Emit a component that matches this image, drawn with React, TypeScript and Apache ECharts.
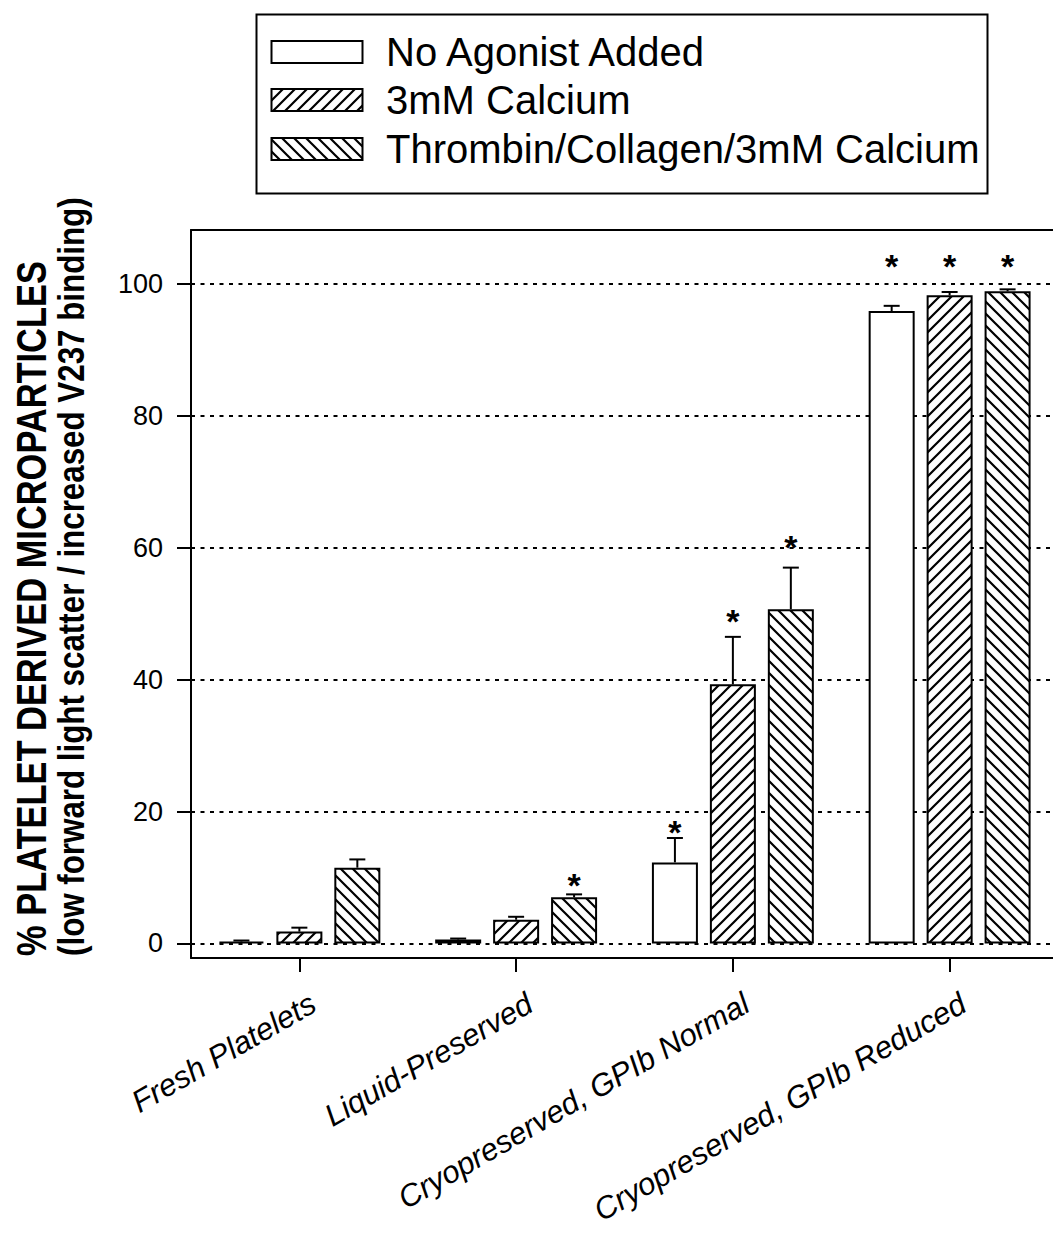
import React, { useEffect, useRef } from "react";
import * as echarts from "echarts";

const categories = [
  "Fresh Platelets",
  "Liquid-Preserved",
  "Cryopreserved, GPIb Normal",
  "Cryopreserved, GPIb Reduced",
];
const seriesNames = ["No Agonist Added", "3mM Calcium", "Thrombin/Collagen/3mM Calcium"];

const noAgonist = [0.3, 0.6, 12.3, 95.9];
const noAgonistErr = [0.15, 0.15, 3.7, 0.8];
const calcium = [1.8, 3.6, 39.3, 98.3];
const calciumErr = [0.6, 0.45, 7.2, 0.5];
const thrombin = [11.5, 7.0, 50.7, 98.9];
const thrombinErr = [1.25, 0.45, 6.3, 0.3];

// level (in axis units) at which the significance asterisk sits; null = none
const noAgonistStar = [null, null, 17.9, 103.8];
const calciumStar = [null, null, 50.0, 103.8];
const thrombinStar = [null, 9.9, 61.2, 103.8];

const yTicks = [0, 20, 40, 60, 80, 100];
const yTitle1 = "% PLATELET DERIVED MICROPARTICLES";
const yTitle2 = "(low forward light scatter / increased V237 binding)";

const FONT = '"Liberation Sans", Arial, Helvetica, sans-serif';
const BAR_W = 46;
const GAP = 0.26;

function hatch(dir: number) {
  const s = 12;
  const c = document.createElement("canvas");
  c.width = s;
  c.height = s;
  const ctx = c.getContext("2d")!;
  ctx.fillStyle = "#fff";
  ctx.fillRect(0, 0, s, s);
  if (dir !== 0) {
    ctx.strokeStyle = "#000";
    ctx.lineWidth = 2.2;
    ctx.beginPath();
    for (const k of [-s, 0, s]) {
      if (dir > 0) {
        ctx.moveTo(k - 1, s + 1);
        ctx.lineTo(k + s + 1, -1);
      } else {
        ctx.moveTo(k - 1, -1);
        ctx.lineTo(k + s + 1, s + 1);
      }
    }
    ctx.stroke();
  }
  return { image: c.toDataURL(), repeat: "repeat", imageWidth: s, imageHeight: s };
}

export default function App() {
  const ref = useRef<HTMLDivElement>(null);
  useEffect(() => {
    const chart = echarts.init(ref.current!, null, { renderer: "svg" });
    const fills: any[] = ["#fff", hatch(1), hatch(-1)];
    const values = [noAgonist, calcium, thrombin];
    const errs = [noAgonistErr, calciumErr, thrombinErr];
    const stars = [noAgonistStar, calciumStar, thrombinStar];

    const barSeries = values.map((vals, k) => ({
      type: "bar",
      name: seriesNames[k],
      data: vals,
      barWidth: BAR_W,
      barGap: GAP * 100 + "%",
      z: 2,
      itemStyle: { color: fills[k], borderColor: "#000", borderWidth: 2 },
      emphasis: { disabled: true },
      ...(k === 0
        ? {
            markLine: {
              silent: true,
              z: 1,
              symbol: ["none", "none"],
              label: { show: false },
              emphasis: { disabled: true },
              lineStyle: { color: "#000", type: [4, 5.5], width: 2 },
              data: yTicks.map((v) => ({ yAxis: v })),
            },
          }
        : {}),
    }));

    const errSeries = values.map((vals, k) => ({
      type: "custom",
      name: seriesNames[k] + " error",
      z: 3,
      data: vals.map((v, i) => [i, v, errs[k][i], stars[k][i] == null ? -1 : stars[k][i]]),
      encode: { x: 0, y: 1 },
      renderItem: (params: any, api: any) => {
        const i = api.value(0);
        const v = api.value(1);
        const e = api.value(2);
        const st = api.value(3);
        const off = (k - 1) * BAR_W * (1 + GAP);
        const base = api.coord([i, v]);
        const top = api.coord([i, v + e]);
        const x = base[0] + off;
        const children: any[] = [
          { type: "line", shape: { x1: x, y1: base[1], x2: x, y2: top[1] }, style: { stroke: "#000", lineWidth: 2 } },
          { type: "line", shape: { x1: x - 8, y1: top[1], x2: x + 8, y2: top[1] }, style: { stroke: "#000", lineWidth: 2 } },
        ];
        if (st >= 0) {
          const sp = api.coord([i, st]);
          children.push({
            type: "text",
            x: x,
            y: sp[1] + 7,
            style: {
              text: "*",
              fontSize: 34,
              fontWeight: "bold",
              fontFamily: FONT,
              fill: "#000",
              align: "center",
              verticalAlign: "middle",
            },
          });
        }
        return { type: "group", children };
      },
    }));

    const legendRows = [52, 100, 149];
    const graphic: any[] = [
      {
        type: "rect",
        shape: { x: 256.5, y: 14.5, width: 731, height: 179 },
        style: { fill: "none", stroke: "#000", lineWidth: 2 },
      },
      ...seriesNames.flatMap((name, k) => [
        {
          type: "rect",
          shape: { x: 271.5, y: legendRows[k] - 11, width: 91, height: 22 },
          style: { fill: fills[k], stroke: "#000", lineWidth: 2 },
        },
        {
          type: "text",
          x: 386,
          y: legendRows[k],
          style: { text: name, fontSize: 40, fontFamily: FONT, fill: "#000", align: "left", verticalAlign: "middle" },
        },
      ]),
      {
        type: "text",
        x: 31,
        y: 956,
        rotation: Math.PI / 2,
        scaleX: 0.82,
        style: {
          text: yTitle1,
          fontSize: 42,
          fontWeight: "bold",
          fontFamily: FONT,
          fill: "#000",
          align: "left",
          verticalAlign: "middle",
        },
      },
      {
        type: "text",
        x: 71,
        y: 956,
        rotation: Math.PI / 2,
        scaleX: 0.87,
        style: {
          text: yTitle2,
          fontSize: 36,
          fontWeight: "bold",
          fontFamily: FONT,
          fill: "#000",
          align: "left",
          verticalAlign: "middle",
        },
      },
    ];

    const option: any = {
      animation: false,
      backgroundColor: "#fff",
      grid: { left: 191, right: -5, top: 230, bottom: 281, outerBoundsMode: "none", containLabel: false },
      xAxis: [
        {
          type: "category",
          data: categories,
          boundaryGap: true,
          axisLine: { onZero: false, lineStyle: { color: "#000", width: 2 } },
          axisTick: { show: true, alignWithLabel: true, length: 14, lineStyle: { color: "#000", width: 2 } },
          axisLabel: {
            rotate: 30,
            margin: 51,
            interval: 0,
            fontSize: 31,
            fontStyle: "italic",
            fontFamily: FONT,
            color: "#000",
            padding: [0, -16, 0, 0],
          },
          splitLine: { show: false },
        },
        {
          type: "category",
          data: categories,
          position: "top",
          axisLine: { onZero: false, lineStyle: { color: "#000", width: 2 } },
          axisTick: { show: false },
          axisLabel: { show: false },
          splitLine: { show: false },
        },
      ],
      yAxis: {
        type: "value",
        min: -2.2,
        max: 108.2,
        axisLine: { show: true, lineStyle: { color: "#000", width: 2 } },
        axisTick: { show: true, inside: false, length: 14, customValues: yTicks, lineStyle: { color: "#000", width: 2 } },
        axisLabel: { customValues: yTicks, margin: 28, fontSize: 27, fontFamily: FONT, color: "#000" },
        splitLine: { show: false },
      },
      graphic,
      series: [...barSeries, ...errSeries],
    };
    chart.setOption(option);
    return () => chart.dispose();
  }, []);
  return (
    <div
      ref={ref}
      style={{ position: "absolute", left: 0, top: 0, width: 1053, height: 1239, background: "#fff" }}
    />
  );
}
